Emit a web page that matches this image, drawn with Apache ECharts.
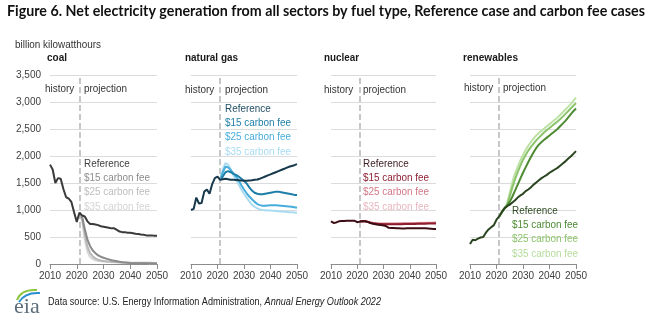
<!DOCTYPE html>
<html><head><meta charset="utf-8">
<script src="https://cdn.jsdelivr.net/npm/echarts@6.0.0/dist/echarts.min.js"></script>
<style>html,body{margin:0;padding:0;background:#fff}#c{width:650px;height:321px}</style>
</head><body><div id="c"></div>
<script>
// ---------- data ----------
const years = [2010,2011,2012,2013,2014,2015,2016,2017,2018,2019,2020,2021,2022,2023,2024,2025,2026,2027,2028,2029,2030,2031,2032,2033,2034,2035,2036,2037,2038,2039,2040,2041,2042,2043,2044,2045,2046,2047,2048,2049,2050];
const projYears = [2021,2022,2023,2024,2025,2026,2027,2028,2029,2030,2031,2032,2033,2034,2035,2036,2037,2038,2039,2040,2041,2042,2043,2044,2045,2046,2047,2048,2049,2050];
const yTicks = [0,500,1000,1500,2000,2500,3000,3500];
const xTicks = [2010,2020,2030,2040,2050];
const historyEnd = 2021;
const panelTitles = ['coal','natural gas','nuclear','renewables'];
const caseNames = ['Reference','$15 carbon fee','$25 carbon fee','$35 carbon fee'];

const coalRef = [1840,1750,1500,1590,1580,1390,1240,1210,1150,960,780,950,900,880,790,740,740,730,720,700,690,680,670,660,660,630,600,590,590,580,580,570,560,555,545,540,530,530,530,525,525];
const coal15 = [950,870,650,450,330,250,200,160,135,115,100,85,70,60,50,40,32,26,22,18,16,15,14,13,12,12,11,10,10,10];
const coal25 = [950,850,550,320,200,140,100,80,65,55,50,45,40,37,35,32,30,28,26,25,25,25,25,25,24,23,22,21,20,20];
const coal35 = [950,820,450,230,130,90,70,55,50,45,40,37,34,32,30,28,26,24,22,20,20,19,18,18,17,17,16,16,15,15];

const gasRef = [1000,1020,1230,1120,1130,1340,1380,1300,1480,1590,1620,1560,1570,1580,1570,1560,1560,1555,1550,1545,1540,1540,1545,1550,1560,1565,1580,1600,1620,1640,1660,1680,1700,1720,1740,1760,1780,1800,1815,1830,1850];
const gas15 = [1560,1620,1700,1720,1700,1670,1650,1620,1580,1540,1490,1420,1360,1320,1300,1290,1290,1300,1310,1320,1330,1340,1340,1330,1320,1310,1300,1290,1280,1280];
const gas25 = [1560,1700,1800,1790,1740,1680,1620,1550,1460,1380,1310,1250,1200,1150,1110,1090,1080,1080,1085,1090,1090,1090,1085,1080,1075,1070,1065,1060,1050,1040];
const gas35 = [1560,1750,1870,1840,1750,1650,1560,1470,1380,1300,1230,1160,1100,1060,1030,1010,1000,995,990,990,985,980,975,970,970,965,960,958,955,950];

const nucRef = [790,760,770,790,795,797,800,800,800,800,775,785,790,790,780,760,745,735,725,720,715,700,670,665,665,662,660,658,658,660,662,662,662,662,662,662,660,658,655,650,648];
const nuc15 = [785,790,790,780,765,755,748,742,740,738,738,737,737,737,737,738,738,740,740,741,742,743,744,745,746,747,748,749,750,752];
const nuc25 = [785,790,790,782,768,758,752,748,746,745,745,745,745,746,746,747,748,749,750,751,752,753,754,755,756,757,758,759,760,762];
const nuc35 = [785,790,790,783,770,760,755,752,750,750,750,750,751,752,753,754,755,756,757,758,759,760,761,762,763,764,765,766,768,770];

const renRef = [370,450,440,470,490,500,580,640,680,720,820,880,960,1030,1070,1100,1140,1180,1230,1270,1300,1350,1380,1420,1470,1510,1550,1590,1620,1650,1690,1720,1750,1780,1820,1860,1900,1950,1990,2040,2090];
const ren15 = [880,960,1030,1080,1150,1250,1360,1470,1580,1690,1790,1890,1980,2070,2150,2210,2260,2300,2340,2380,2420,2460,2500,2550,2600,2650,2710,2770,2830,2880];
const ren25 = [880,960,1030,1100,1250,1420,1570,1700,1820,1930,2020,2100,2170,2230,2290,2340,2390,2440,2480,2520,2560,2600,2640,2680,2730,2780,2830,2880,2930,2980];
const ren35 = [880,960,1030,1120,1320,1520,1680,1800,1920,2020,2110,2190,2260,2320,2380,2430,2470,2510,2550,2590,2630,2670,2710,2760,2810,2860,2910,2960,3020,3080];

// ---------- layout / styles ----------
const FONT = "'Liberation Sans', Arial, sans-serif";
const panels = [
  {left:50, width:107, ref:coalRef, fees:[coal15,coal25,coal35],
   line:['#3a3a3a','#8a8a8a','#b8b8b8','#d6d6d6'], text:['#404040','#8c8c8c','#bdbdbd','#d4d4d4'],
   titleX:47, titleW:20, histX:45, projX:84, histY:89, labX:84, labY:164},
  {left:191, width:106, ref:gasRef, fees:[gas15,gas25,gas35],
   line:['#17394d','#1d7ea8','#47addb','#a9dbf1'], text:['#1f4d63','#1d7ea8','#47addb','#a9dbf1'],
   titleX:185, titleW:53, histX:185, projX:225, histY:90, labX:225, labY:109},
  {left:331, width:105, ref:nucRef, fees:[nuc15,nuc25,nuc35],
   line:['#3c0d14','#8c1c2e','#d1707f','#e9b4bc'], text:['#3c1a1e','#8e1f33','#d47886','#e8b8c0'],
   titleX:324, titleW:35, histX:324, projX:363, histY:90, labX:363, labY:164},
  {left:470, width:106, ref:renRef, fees:[ren15,ren25,ren35],
   line:['#2a4420','#4d8a32','#8cc46b','#bde2a6'], text:['#2d4a22','#4d8a32','#8cc46b','#b5dc9c'],
   titleX:463, titleW:55, histX:464, projX:503, histY:88, labX:512, labY:211}
];
const GRID_TOP = 75, GRID_H = 189;

const mctx = document.createElement('canvas').getContext('2d');
function measure(t, font){ mctx.font = font; return mctx.measureText(t).width; }
function txt(x, y, t, font, fill, opt){
  opt = opt || {};
  let sx = opt.scaleX || 1;
  if (opt.width) sx = opt.width / measure(t, font);
  return {type:'text', x:x, y:y, scaleX:sx, scaleY:1, silent:true, z:100,
    style:{text:t, font:font, fill:fill, textAlign:'left', textVerticalAlign:'middle'}};
}

const graphic = [];
graphic.push(txt(7, 11, 'Figure 6. Net electricity generation from all sectors by fuel type, Reference case and carbon fee cases',
  "bold 15px Lato, 'Liberation Sans', sans-serif", '#111', {width:638}));
graphic.push(txt(15, 45, 'billion kilowatthours', '11px ' + FONT, '#333', {width:86}));
panels.forEach((p,i)=>{
  graphic.push(txt(p.titleX, 58, panelTitles[i], 'bold 11px ' + FONT, '#1a1a1a', {width:p.titleW}));
  graphic.push(txt(p.histX, p.histY, 'history', '11px ' + FONT, '#333', {scaleX:0.9}));
  graphic.push(txt(p.projX, p.histY, 'projection', '11px ' + FONT, '#333', {scaleX:0.9}));
  caseNames.forEach((c,k)=>{
    graphic.push(txt(p.labX, p.labY + k*14.2, c, '11px ' + FONT, p.text[k], {scaleX:0.9}));
  });
});
// footer
const srcA = 'Data source: U.S. Energy Information Administration, ';
const srcB = 'Annual Energy Outlook 2022';
const fA = '11px ' + FONT, fB = 'italic 11px ' + FONT;
const srcScale = 333 / (measure(srcA, fA) + measure(srcB, fB));
graphic.push(txt(48, 302, srcA, fA, '#222', {scaleX:srcScale}));
graphic.push(txt(48 + measure(srcA, fA)*srcScale, 302, srcB, fB, '#222', {scaleX:srcScale}));
// eia logo
graphic.push({type:'text', x:14, y:307, silent:true, style:{text:'eia', font:"22px 'Liberation Serif', serif", fill:'#5d6d7c', textAlign:'left', textVerticalAlign:'middle'}});
graphic.push({type:'bezierCurve', silent:true, shape:{x1:17, y1:300, cpx1:21, cpy1:289, x2:37, y2:290}, style:{stroke:'#8dc63f', lineWidth:2, fill:null}});
graphic.push({type:'bezierCurve', silent:true, shape:{x1:19, y1:302, cpx1:25, cpy1:292, x2:40, y2:293}, style:{stroke:'#2a8fcf', lineWidth:2, fill:null}});

const grid = panels.map(p=>({left:p.left, top:GRID_TOP, width:p.width, height:GRID_H}));
const xAxis = panels.map((p,i)=>({gridIndex:i, type:'value', min:xTicks[0], max:xTicks[xTicks.length-1], interval:xTicks[1]-xTicks[0],
  axisLine:{show:true, onZero:false, lineStyle:{color:'#8c8c8c', width:1}},
  axisTick:{show:true, length:5, lineStyle:{color:'#8c8c8c'}},
  axisLabel:{fontSize:10, color:'#404040', fontFamily:FONT, margin:7, formatter:v=>String(v), showMinLabel:true, showMaxLabel:true},
  splitLine:{show:false}}));
const yAxis = panels.map((p,i)=>({gridIndex:i, type:'value', min:yTicks[0], max:yTicks[yTicks.length-1], interval:yTicks[1]-yTicks[0],
  axisLine:{show:false}, axisTick:{show:false},
  splitLine:{show:true, lineStyle:{color:'#dcdcdc', width:1}},
  axisLabel:{show:i===0, fontSize:10, color:'#404040', fontFamily:FONT, margin:9, formatter:v=>v.toLocaleString('en-US')}}));

const series = [];
panels.forEach((p,i)=>{
  // divider between history and projection, drawn beneath the lines
  series.push({type:'line', xAxisIndex:i, yAxisIndex:i, data:[], silent:true, z:1,
    markLine:{silent:true, symbol:'none', label:{show:false},
      lineStyle:{type:[6,3], color:'#b5b5b5', width:1.5},
      data:[{xAxis:historyEnd}]}});
  for (let k=2;k>=0;k--){
    series.push({type:'line', xAxisIndex:i, yAxisIndex:i, showSymbol:false, silent:true,
      data: projYears.map((y,j)=>[y, p.fees[k][j]]),
      lineStyle:{color:p.line[k+1], width:2}, z:2+(2-k)});
  }
  series.push({type:'line', xAxisIndex:i, yAxisIndex:i, showSymbol:false, silent:true,
    data: years.map((y,j)=>[y, p.ref[j]]),
    lineStyle:{color:p.line[0], width:2}, z:6});
});

const chart = echarts.init(document.getElementById('c'), null, {renderer:'canvas'});
chart.setOption({animation:false, backgroundColor:'#fff', grid, xAxis, yAxis, series, graphic});
</script>
</body></html>
